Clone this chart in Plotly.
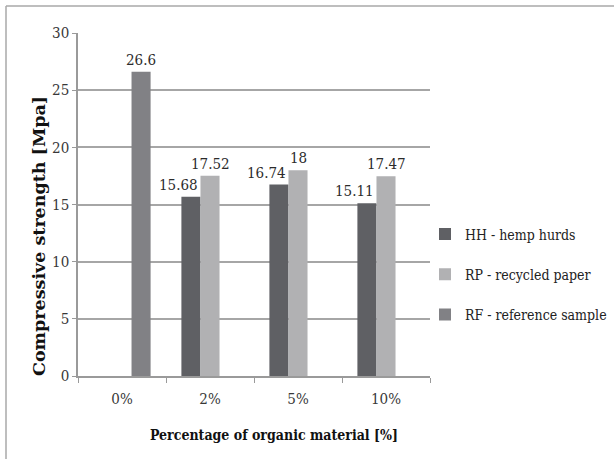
import plotly.graph_objects as go

# Compressive strength by organic material content
categories = ["0%", "2%", "5%", "10%"]
hh_values = [None, 15.68, 16.74, 15.11]   # HH - hemp hurds
rp_values = [None, 17.52, 18, 17.47]      # RP - recycled paper
rf_values = [26.6, None, None, None]      # RF - reference sample
series_names = ["HH - hemp hurds", "RP - recycled paper", "RF - reference sample"]
y_ticks = [0, 5, 10, 15, 20, 25, 30]
x_title = "Percentage of organic material [%]"
y_title = "Compressive strength [Mpa]"

colors = ["#5f6064", "#b1b1b3", "#818185"]
series = [hh_values, rp_values, rf_values]

W, H = 614, 459
ML, MR, MT, MB = 78, 184, 33, 83
pw, ph = W - ML - MR, H - MT - MB
serif = "DejaVu Serif Condensed, DejaVu Serif"

fig = go.Figure()
for name, vals, col in zip(series_names, series, colors):
    fig.add_trace(go.Bar(
        x=categories, y=vals, name=name, marker=dict(color=col, line=dict(width=0)),
        legendgroup=name,
    ))

# value labels above the bars; HH labels sit slightly left of their bar
bar_px = pw / len(categories) * 0.65 / 3
label_shift = [-bar_px - 12, 0, bar_px]
annotations = []
for vals, shift in zip(series, label_shift):
    for cat, v in zip(categories, vals):
        if v is None:
            continue
        annotations.append(dict(
            x=cat, y=v, xref="x", yref="y", text=f"{v:g}", showarrow=False,
            xshift=shift, yshift=1, yanchor="bottom",
            font=dict(family=serif, size=15, color="#2b2b2b"),
        ))

# axis titles
annotations.append(dict(
    x=(274 - ML) / pw, y=-(435 - MT - ph) / ph, xref="paper", yref="paper",
    text=f"<b>{x_title}</b>", showarrow=False, xanchor="center", yanchor="middle",
    font=dict(family=serif, size=14, color="#111111"),
))
annotations.append(dict(
    x=(39 - ML) / pw, y=(MT + ph - 236) / ph, xref="paper", yref="paper",
    text=f"<b>{y_title}</b>", showarrow=False, textangle=-90,
    xanchor="center", yanchor="middle",
    font=dict(family="DejaVu Serif", size=17.5, color="#111111"),
))

# chart frame (top and left edges)
fx = (6 - ML) / pw
fy = 1 + (MT - 6) / ph
shapes = [
    dict(type="line", xref="paper", yref="paper", x0=fx, x1=(W - ML) / pw + 0.05, y0=fy, y1=fy,
         line=dict(color="#a8a8a8", width=1.5)),
    dict(type="line", xref="paper", yref="paper", x0=fx, x1=fx, y0=fy, y1=-(MB + 10) / ph,
         line=dict(color="#a8a8a8", width=1.5)),
]

fig.update_layout(
    width=W, height=H,
    margin=dict(l=ML, r=MR, t=MT, b=MB, autoexpand=False),
    paper_bgcolor="white", plot_bgcolor="white",
    barmode="group", bargap=0.35, bargroupgap=0,
    font=dict(family=serif, color="#333333"),
    annotations=annotations, shapes=shapes,
    legend=dict(
        x=(ML + pw - 5) / W, xref="container", xanchor="left",
        y=0.296, yanchor="middle",
        font=dict(family=serif, size=14, color="#222222"),
        tracegroupgap=19, itemwidth=30, bgcolor="rgba(0,0,0,0)",
    ),
    showlegend=True,
)
fig.update_xaxes(
    type="category", tickson="boundaries", ticks="outside", ticklen=5,
    tickcolor="#9a9a9a", showline=True, linecolor="#9a9a9a", linewidth=1.5,
    showgrid=False, tickfont=dict(family=serif, size=15, color="#383838"),
    ticklabelstandoff=8,
)
fig.update_yaxes(
    range=[0, 30], tickvals=y_ticks, ticks="outside", ticklen=4, tickcolor="#9a9a9a",
    showline=True, linecolor="#9a9a9a", linewidth=1.5,
    showgrid=True, gridcolor="#a6a6a6", gridwidth=1.5, zeroline=False,
    tickfont=dict(family=serif, size=15, color="#383838"),
)

fig.write_html("out.html")
